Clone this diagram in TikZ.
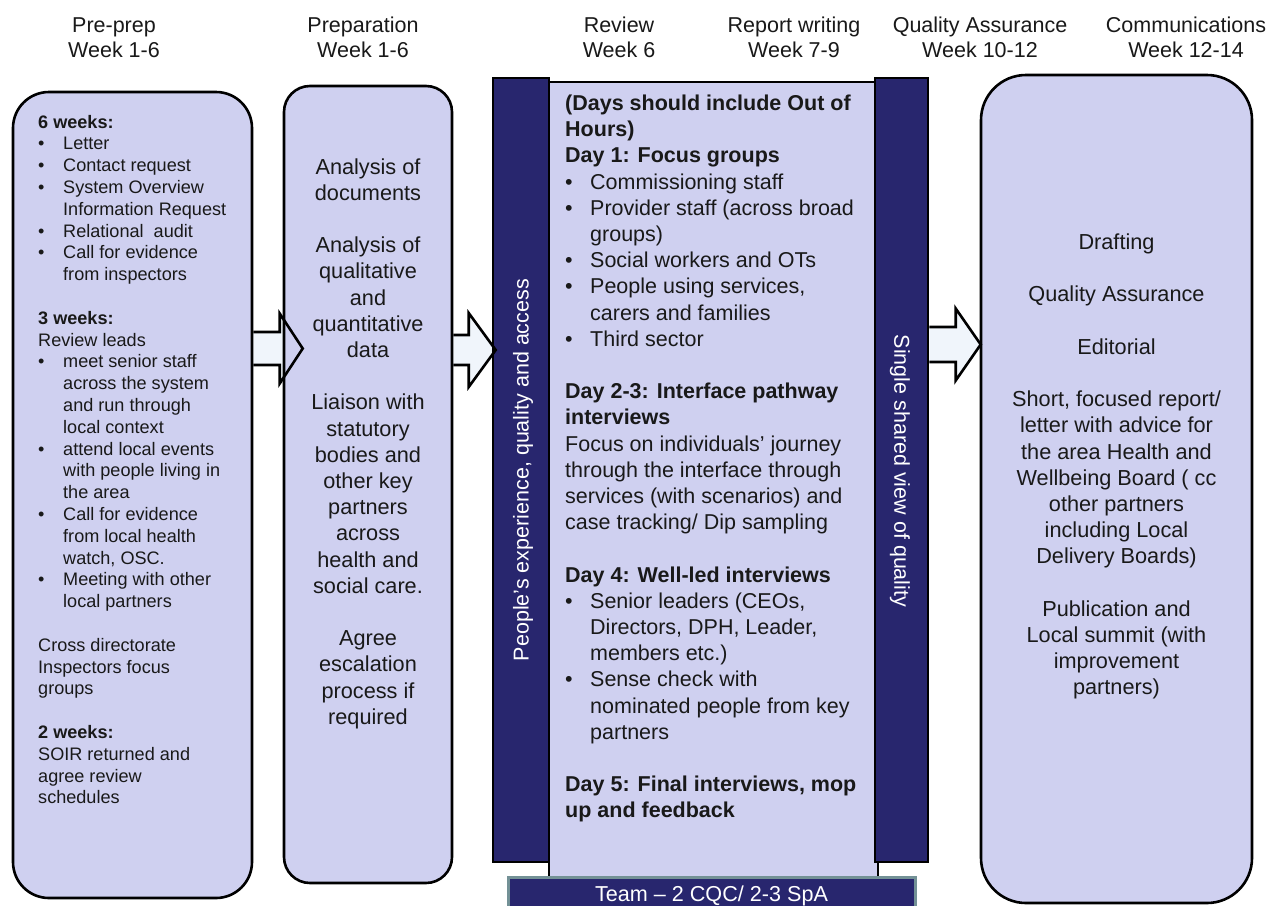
\documentclass[tikz,border=0pt]{standalone}
\usepackage{fontspec}
\setmainfont{Liberation Sans}
\usetikzlibrary{calc,backgrounds}
\definecolor{lav}{RGB}{207,208,240}
\definecolor{navy}{RGB}{40,38,110}
\definecolor{arrowfill}{RGB}{240,245,251}
\definecolor{teamedge}{RGB}{115,145,150}
\definecolor{txt}{RGB}{25,25,25}
\newcommand\bl[1]{\makebox[25pt][l]{•}#1}
\newcommand\cl[1]{\hspace*{25pt}#1}
\newcommand\arrowshape[5]{($(#1)+(0,-#4)$) -- ($(#2)+(-#3,-#4)$) -- ($(#2)+(-#3,-#5)$) -- (#2) -- ($(#2)+(-#3,#5)$) -- ($(#2)+(-#3,#4)$) -- ($(#1)+(0,#4)$)}
\begin{document}
\begin{tikzpicture}[x=1pt,y=-1pt,
  box/.style={draw=black, line width=2.6pt, fill=lav, inner sep=0pt},
  bar/.style={draw=black, line width=2.6pt, fill=navy, inner sep=0pt},
  arrowline/.style={draw=black, line width=2.6pt, line join=miter},
  arrowbody/.style={fill=arrowfill},
  txtnode/.style={inner sep=0pt, text=txt},
  hdr/.style={txtnode, anchor=base},
  vtxt/.style={inner sep=0pt, text=white, font=\fontsize{21.5}{26}\selectfont}]
\useasboundingbox (0,0) rectangle (1276,905);
% boxes
\node[box, rounded corners=36pt, minimum width=239pt, minimum height=806pt] (pre) at (132.5,495) {};
\node[box, rounded corners=26pt, minimum width=168pt, minimum height=797pt] (prep) at (368,484.5) {};
\node[box, minimum width=329pt, minimum height=803pt] (rev) at (713.5,483.5) {};
\node[bar, minimum width=56pt, minimum height=784pt] (lbar) at (521,470) {};
\node[bar, minimum width=53pt, minimum height=784pt] (rbar) at (901.5,470) {};
\node[draw=teamedge, line width=3pt, fill=navy, inner sep=0pt, minimum width=407pt, minimum height=40pt] (team) at (711.5,897) {};
\node[box, rounded corners=45pt, minimum width=271pt, minimum height=828pt] (comm) at (1116.5,489) {};
% arrows
\coordinate (a1s) at (pre.east |- 0,348.5);
\coordinate (a1t) at ($(prep.west |- a1s)+(20,0)$);
\coordinate (a2s) at (prep.east |- 0,350);
\coordinate (a2t) at ($(lbar.west |- a2s)+(4,0)$);
\coordinate (a3s) at (rbar.east |- 0,344.5);
\coordinate (a3t) at ($(comm.west |- a3s)+(1,0)$);
\begin{pgfonlayer}{background}
\fill[white] (0,0) rectangle (1276,905);
\fill[arrowbody] \arrowshape{a1s}{a1t}{23}{16.5}{35} -- cycle;
\fill[arrowbody] \arrowshape{a2s}{a2t}{27}{15}{37} -- cycle;
\fill[arrowbody] \arrowshape{a3s}{a3t}{25}{17.5}{36} -- cycle;
\end{pgfonlayer}
\draw[arrowline] \arrowshape{a1s}{a1t}{23}{16.5}{35};
\draw[arrowline] \arrowshape{a2s}{a2t}{27}{15}{37};
\draw[arrowline] \arrowshape{a3s}{a3t}{25}{17.5}{36};
% headers
\node[hdr] (h1) at (114,32.5) {\parbox[t]{200pt}{\centering\fontsize{21.5}{25}\selectfont Pre-prep\\Week 1-6}};
\node[hdr] (h2) at (363,32.5) {\parbox[t]{200pt}{\centering\fontsize{21.5}{25}\selectfont Preparation\\Week 1-6}};
\node[hdr] (h3) at (619,32.5) {\parbox[t]{200pt}{\centering\fontsize{21.5}{25}\selectfont Review\\Week 6}};
\node[hdr] (h4) at (794,32.5) {\parbox[t]{200pt}{\centering\fontsize{21.5}{25}\selectfont Report writing\\Week 7-9}};
\node[hdr] (h5) at (980,32.5) {\parbox[t]{200pt}{\centering\fontsize{21.5}{25}\selectfont Quality Assurance\\Week 10-12}};
\node[hdr] (h6) at (1186,32.5) {\parbox[t]{200pt}{\centering\fontsize{21.5}{25}\selectfont Communications\\Week 12-14}};
% box 1 text
\node[txtnode, anchor=base west] (pretxt) at (38,128) {\parbox[t]{212pt}{\fontsize{18.1}{21.8}\selectfont\raggedright
\textbf{6 weeks:}\\
\bl{Letter}\\
\bl{Contact request}\\
\bl{System Overview}\\
\cl{Information Request}\\
\bl{Relational\ \ audit}\\
\bl{Call for evidence}\\
\cl{from inspectors}\\[21.8pt]
\textbf{3 weeks:}\\
Review leads\\
\bl{meet senior staff}\\
\cl{across the system}\\
\cl{and run through}\\
\cl{local context}\\
\bl{attend local events}\\
\cl{with people living in}\\
\cl{the area}\\
\bl{Call for evidence}\\
\cl{from local health}\\
\cl{watch, OSC.}\\
\bl{Meeting with other}\\
\cl{local partners}\\[21.8pt]
Cross directorate\\
Inspectors focus\\
groups\\[21.8pt]
\textbf{2 weeks:}\\
SOIR returned and\\
agree review\\
schedules}};
% box 2 text
\node[txtnode, anchor=base] (preptxt) at (368,174) {\parbox[t]{160pt}{\centering\fontsize{21.7}{26.2}\selectfont
Analysis of\\documents\\[26.2pt]Analysis of\\qualitative\\and\\quantitative\\data\\[26.2pt]Liaison with\\statutory\\bodies and\\other key\\partners\\across\\health and\\social care.\\[26.2pt]Agree\\escalation\\process if\\required}};
% review text
\node[txtnode, anchor=base west] (revtxt) at (565,110.5) {\parbox[t]{330pt}{\fontsize{21.5}{26.2}\selectfont\raggedright
\textbf{(Days should include Out of}\\
\textbf{Hours)}\\
\textbf{Day 1: Focus groups}\\
\bl{Commissioning staff}\\
\bl{Provider staff (across broad}\\
\cl{groups)}\\
\bl{Social workers and OTs}\\
\bl{People using services,}\\
\cl{carers and families}\\
\bl{Third sector}\\[26.2pt]
\textbf{Day 2-3: Interface pathway}\\
\textbf{interviews}\\
Focus on individuals’ journey\\
through the interface through\\
services (with scenarios) and\\
case tracking/ Dip sampling\\[26.2pt]
\textbf{Day 4: Well-led interviews}\\
\bl{Senior leaders (CEOs,}\\
\cl{Directors, DPH, Leader,}\\
\cl{members etc.)}\\
\bl{Sense check with}\\
\cl{nominated people from key}\\
\cl{partners}\\[26.2pt]
\textbf{Day 5: Final interviews, mop}\\
\textbf{up and feedback}}};
% communications text
\node[txtnode, anchor=base] (commtxt) at (1116.5,249.5) {\parbox[t]{260pt}{\centering\fontsize{21.7}{26.2}\selectfont
Drafting\\[26.2pt]
Quality Assurance\\[26.2pt]
Editorial\\[26.2pt]
Short, focused report/\\
letter with advice for\\
the area Health and\\
Wellbeing Board ( cc\\
other partners\\
including Local\\
Delivery Boards)\\[26.2pt]
Publication and\\
Local summit (with\\
improvement\\
partners)}};
% vertical labels
\node[vtxt, rotate=90] (ltxt) at (523,470) {People’s experience, quality and access};
\node[vtxt, rotate=-90] (rtxt) at (900,471) {Single shared view of quality};
\node[inner sep=0pt, text=white, anchor=base, font=\fontsize{21.6}{26}\selectfont] (teamtxt) at (711.5,901) {Team – 2 CQC/ 2-3 SpA};
\end{tikzpicture}
\end{document}
